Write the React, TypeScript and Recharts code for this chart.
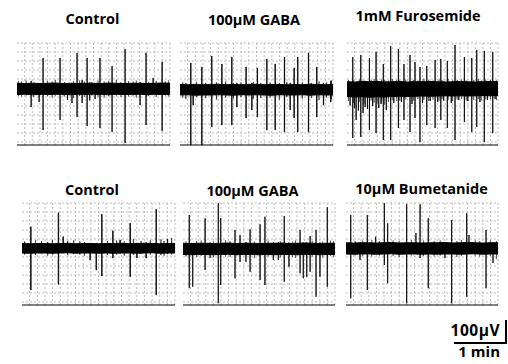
import React from 'react';
import { ComposedChart, Area, Bar, XAxis, YAxis, CartesianGrid } from 'recharts';

// ---------- text ----------
const TITLES_TOP = ['Control', '100μM GABA', '1mM Furosemide'];
const TITLES_BOTTOM = ['Control', '100μM GABA', '10μM Bumetanide'];
const SCALE_V = '100μV';
const SCALE_T = '1 min';

// ---------- axes ----------
const X_DOMAIN = [0, 100];
const Y_DOMAIN = [-228, 180];
const GRID_X = [5, 10, 15, 20, 25, 30, 35, 40, 45, 50, 55, 60, 65, 70, 75, 80, 85, 90, 95, 100];
const GRID_Y = [180, 144, 108, 72, 36, 0, -36, -72, -108, -144, -180, -216];
const MARKS_TOP = [120, 0, -112];
const MARKS_BOTTOM = [115, 0, -112];

// ---------- noise band envelopes (µV), sampled every 5 time units ----------
const BAND_T = [0, 5, 10, 15, 20, 25, 30, 35, 40, 45, 50, 55, 60, 65, 70, 75, 80, 85, 90, 95, 100];

const P1_BAND_HI = [19, 18, 19, 18, 19, 20, 18, 19, 18, 19, 19, 18, 20, 19, 18, 19, 19, 18, 19, 20, 19];
const P1_BAND_LO = [-26, -25, -27, -26, -26, -25, -26, -27, -25, -26, -25, -26, -27, -25, -26, -26, -25, -27, -25, -26, -26];

const P2_BAND_HI = [14, 13, 14, 13, 14, 15, 13, 14, 13, 14, 15, 13, 14, 14, 13, 14, 13, 15, 14, 13, 14];
const P2_BAND_LO = [-28, -27, -29, -28, -28, -27, -28, -29, -27, -28, -27, -28, -29, -27, -28, -28, -27, -29, -27, -28, -28];

const P3_BAND_HI = [25, 24, 26, 25, 26, 24, 25, 26, 24, 25, 25, 26, 25, 24, 25, 26, 25, 24, 25, 26, 25];
const P3_BAND_LO = [-34, -36, -35, -37, -35, -36, -34, -33, -34, -33, -32, -33, -32, -31, -32, -31, -32, -31, -30, -31, -30];

const P4_BAND_HI = [18, 17, 18, 18, 17, 18, 19, 17, 18, 18, 17, 18, 18, 19, 17, 18, 19, 18, 17, 18, 18];
const P4_BAND_LO = [-20, -21, -20, -20, -21, -20, -19, -21, -20, -20, -21, -20, -21, -20, -20, -21, -20, -19, -21, -20, -20];

const P5_BAND_HI = [19, 18, 19, 19, 18, 19, 20, 18, 19, 19, 18, 19, 19, 20, 18, 19, 20, 19, 18, 19, 19];
const P5_BAND_LO = [-26, -27, -26, -26, -27, -26, -25, -27, -26, -26, -27, -26, -27, -26, -26, -27, -26, -25, -27, -26, -26];

const P6_BAND_HI = [21, 20, 21, 21, 20, 21, 22, 20, 21, 21, 20, 21, 21, 22, 20, 21, 22, 21, 20, 21, 21];
const P6_BAND_LO = [-24, -25, -24, -24, -25, -24, -23, -25, -24, -24, -25, -24, -25, -24, -24, -25, -24, -23, -25, -24, -24];

// ---------- spikes: time, lowest value, highest value (µV) ----------
const P1_SPIKE_T = [9.2, 14.4, 17, 28.1, 33, 35.9, 39.2, 42.5, 45.8, 47.5, 51, 54.2, 62.1, 70.6, 80.4, 84.3, 88.9, 94.8];
const P1_SPIKE_LO = [-76, -56, -168, -128, -48, -60, -116, -60, -152, -50, -44, -160, -176, -220, -68, -148, -16, -172];
const P1_SPIKE_HI = [28, 20, 120, 120, 16, 20, 140, 32, 120, 22, 18, 120, 88, 156, 24, 140, 40, 104];

const P2_SPIKE_T = [7, 8.5, 14.2, 20.7, 27.3, 33.8, 37.1, 43.1, 46.9, 50.5, 56.7, 62.1, 68.2, 71.9, 74.5, 76.9, 83.9, 89.3, 93.7, 98.5];
const P2_SPIKE_LO = [-228, -68, -228, -156, -148, -148, -76, -120, -88, -116, -168, -168, -176, -88, -120, -176, -176, -116, -68, -56];
const P2_SPIKE_HI = [100, 16, 84, 128, 96, 124, 20, 84, 20, 80, 116, 96, 124, 20, 80, 124, 140, 84, 20, 28];

const P3_SPIKE_T = [2, 3.8, 5, 6, 7.5, 9.1, 10.6, 12, 13.5, 14.8, 17, 19.2, 21, 22.5, 24, 26, 28.9, 31, 34, 36, 37.7, 41.7, 43, 45, 48.3, 50, 52.8, 55, 58.3, 60, 62.1, 64, 66.4, 69, 71.5, 74, 77.7, 80, 82.6, 85.9, 88, 90.9, 93, 96.5, 98];
const P3_SPIKE_LO = [-70, -200, -80, -128, -90, -196, -100, -76, -84, -168, -72, -180, -80, -64, -208, -88, -208, -60, -160, -56, -128, -176, -64, -120, -216, -60, -148, -52, -160, -56, -128, -50, -160, -60, -208, -48, -136, -52, -176, -156, -56, -216, -48, -180, -44];
const P3_SPIKE_HI = [24, 124, 24, 20, 24, 132, 28, 28, 24, 120, 28, 144, 24, 24, 96, 28, 168, 28, 156, 24, 96, 132, 28, 104, 84, 28, 88, 28, 112, 24, 116, 28, 108, 24, 172, 28, 124, 24, 120, 152, 28, 148, 24, 144, 28];

const P4_SPIKE_T = [5.7, 23.7, 26.8, 44.4, 48.4, 52.1, 59.3, 64, 70.6, 75, 81, 87.6, 95];
const P4_SPIKE_LO = [-168, -145, -20, -48, -88, -112, -40, -22, -115, -40, -40, -188, -24];
const P4_SPIKE_HI = [85, 141, 45, 20, 20, 135, 69, 32, 99, 20, 22, 155, 36];

const P5_SPIKE_T = [4.1, 6.4, 14.5, 17.8, 23.2, 24.8, 34.2, 37.5, 41.4, 44.1, 50.7, 53.9, 59.4, 62.7, 66.6, 69.7, 77, 79.1, 81.4, 83.6, 87.5, 90.1, 94.9];
const P5_SPIKE_LO = [-161, -155, -88, -40, -221, -148, -121, -56, -55, -95, -128, -148, -48, -48, -135, -75, -101, -121, -115, -95, -195, -115, -155];
const P5_SPIKE_HI = [132, 20, 119, 22, 179, 120, 72, 52, 24, 75, 95, 125, 22, 22, 128, 22, 72, 22, 22, 48, 72, 22, 163];

const P6_SPIKE_T = [3.1, 9.2, 14, 19.5, 25.2, 27.4, 39.9, 46, 48.7, 54.1, 65.1, 69.5, 79.4, 80.9, 92.1, 96.7];
const P6_SPIKE_LO = [-201, -48, -168, -22, -68, -141, -221, -22, -40, -161, -40, -221, -195, -22, -161, -60];
const P6_SPIKE_HI = [132, 22, 132, 45, 179, 99, 175, 60, 175, 119, 22, 112, 139, 52, 72, 22];

// ---------- small noise excursions just beyond the band ----------
const P1_HAIR_T = [1, 3, 6, 11, 20, 23, 25, 31, 37, 41, 44, 49, 53, 57, 60, 65, 68, 73, 76, 78, 86, 91, 97, 99];
const P1_HAIR_LO = [-32, -34, -30, -36, -32, -38, -30, -34, -40, -32, -36, -30, -34, -38, -32, -30, -36, -34, -30, -38, -32, -36, -30, -34];
const P1_HAIR_HI = [28, 26, 30, 24, 28, 26, 32, 24, 28, 30, 26, 24, 30, 26, 28, 32, 24, 28, 26, 30, 24, 28, 26, 30];

const P2_HAIR_T = [2, 4, 11, 17, 24, 30, 35, 40, 48, 53, 59, 65, 70, 80, 86, 91, 96, 99];
const P2_HAIR_LO = [-38, -44, -36, -40, -46, -38, -42, -36, -44, -40, -38, -46, -36, -42, -40, -48, -38, -44];
const P2_HAIR_HI = [22, 20, 24, 20, 22, 26, 20, 22, 24, 20, 22, 20, 24, 22, 20, 26, 22, 30];

const P3_HAIR_T = [1, 4.4, 8.2, 11.3, 16, 18, 20, 23, 25, 27.5, 30, 33, 35, 39, 44, 47, 51, 54, 57, 61, 63, 67, 70, 73, 76, 79, 84, 87, 89, 92, 95, 99];
const P3_HAIR_LO = [-52, -60, -56, -64, -50, -58, -62, -54, -66, -56, -48, -52, -50, -46, -50, -44, -48, -52, -46, -50, -44, -48, -52, -46, -44, -50, -48, -44, -50, -46, -44, -48];
const P3_HAIR_HI = [32, 30, 34, 30, 32, 36, 30, 34, 32, 30, 36, 32, 30, 34, 32, 30, 36, 32, 30, 34, 32, 36, 30, 32, 34, 30, 32, 36, 30, 34, 32, 30];

const P4_HAIR_T = [2, 9, 13, 17, 20, 30, 34, 38, 41, 56, 62, 67, 73, 78, 84, 91, 93, 98];
const P4_HAIR_LO = [-26, -28, -24, -30, -26, -28, -24, -26, -30, -28, -26, -30, -28, -24, -26, -28, -30, -26];
const P4_HAIR_HI = [26, 30, 28, 24, 32, 28, 30, 26, 24, 28, 30, 26, 36, 28, 30, 34, 28, 40];

const P5_HAIR_T = [2, 9, 12, 20, 28, 31, 47, 56, 64, 72, 74, 85, 92, 97, 99];
const P5_HAIR_LO = [-34, -36, -32, -38, -34, -36, -40, -34, -38, -36, -40, -34, -38, -32, -36];
const P5_HAIR_HI = [26, 28, 30, 26, 32, 28, 26, 30, 28, 26, 30, 28, 26, 30, 28];

const P6_HAIR_T = [6, 11, 17, 22, 31, 35, 43, 51, 58, 62, 73, 76, 85, 88, 95, 99];
const P6_HAIR_LO = [-30, -32, -34, -30, -32, -36, -30, -32, -34, -30, -36, -32, -30, -34, -32, -44];
const P6_HAIR_HI = [28, 30, 32, 28, 30, 28, 32, 30, 28, 30, 28, 32, 30, 28, 30, 28];

type Row = { t: number; band?: [number, number]; spike?: [number, number]; hair?: [number, number] };

function buildRows(
  bandHi: number[], bandLo: number[],
  sT: number[], sLo: number[], sHi: number[],
  hT: number[], hLo: number[], hHi: number[],
): Row[] {
  const rows: Row[] = [];
  BAND_T.forEach((t, i) => rows.push({ t, band: [bandLo[i], bandHi[i]] }));
  sT.forEach((t, i) => rows.push({ t, spike: [sLo[i], sHi[i]] }));
  hT.forEach((t, i) => rows.push({ t, hair: [hLo[i], hHi[i]] }));
  rows.sort((a, b) => a.t - b.t);
  return rows;
}

type PanelProps = {
  left: number; top: number; width: number; height: number;
  rows: Row[]; marks: number[];
};

const ML = 5, MT = 2, MR = 2;

// map a value through an axis scale (function or object form), falling back to the plot offset
function through(scale: any, v: number, lo: number, hi: number, start: number, size: number, invert: boolean) {
  if (typeof scale === 'function') return scale(v);
  if (scale && typeof scale.map === 'function') return scale.map(v);
  const f = (v - lo) / (hi - lo);
  return invert ? start + (1 - f) * size : start + f * size;
}
const gridH = (p: any) => {
  const o = p?.offset ?? {};
  return GRID_Y.map((v) => through(p?.yAxis?.scale, v, Y_DOMAIN[0], Y_DOMAIN[1], o.top ?? 0, o.height ?? 0, true));
};
const gridV = (p: any) => {
  const o = p?.offset ?? {};
  return GRID_X.map((v) => through(p?.xAxis?.scale, v, X_DOMAIN[0], X_DOMAIN[1], o.left ?? 0, o.width ?? 0, false));
};

function Panel({ left, top, width, height, rows, marks }: PanelProps) {
  return (
    <div style={{ position: 'absolute', left: left - ML, top: top - MT }}>
      <ComposedChart
        width={width + ML + MR}
        height={height + MT + 2}
        data={rows}
        margin={{ top: MT, right: MR, bottom: 0, left: ML }}
      >
        <CartesianGrid
          stroke="#bcbcbc"
          strokeDasharray="2 2"
          strokeWidth={1}
          horizontalCoordinatesGenerator={gridH}
          verticalCoordinatesGenerator={gridV}
        />
        <XAxis
          dataKey="t"
          type="number"
          domain={X_DOMAIN}
          ticks={GRID_X}
          tick={false}
          tickLine={false}
          height={2}
          axisLine={{ stroke: '#000', strokeWidth: 1 }}
          allowDataOverflow
        />
        <YAxis
          type="number"
          domain={Y_DOMAIN}
          ticks={GRID_Y}
          tick={false}
          tickLine={false}
          width={0}
          axisLine={{ stroke: '#000', strokeWidth: 1.2 }}
          allowDataOverflow
        />
        <YAxis
          yAxisId="marks"
          type="number"
          domain={Y_DOMAIN}
          ticks={marks}
          tick={false}
          tickSize={3}
          tickLine={{ stroke: '#000', strokeWidth: 1.5 }}
          width={0}
          axisLine={false}
          allowDataOverflow
        />
        <Area
          dataKey="band"
          type="linear"
          stroke="#000"
          strokeWidth={1}
          fill="#000"
          fillOpacity={1}
          connectNulls
          isAnimationActive={false}
          dot={false}
          activeDot={false}
        />
        <Bar dataKey="hair" fill="#000" stroke="#000" strokeWidth={0.4} barSize={1} isAnimationActive={false} />
        <Bar dataKey="spike" fill="#000" stroke="#000" strokeWidth={0.8} barSize={1.4} isAnimationActive={false} />
      </ComposedChart>
    </div>
  );
}

const titleStyle: React.CSSProperties = {
  position: 'absolute',
  width: 180,
  textAlign: 'center',
  fontFamily: '"Open Sans", sans-serif',
  fontWeight: 700,
  fontSize: 14.5,
  lineHeight: '14.5px',
  color: '#000',
  whiteSpace: 'nowrap',
};

export default function App() {
  const p1 = buildRows(P1_BAND_HI, P1_BAND_LO, P1_SPIKE_T, P1_SPIKE_LO, P1_SPIKE_HI, P1_HAIR_T, P1_HAIR_LO, P1_HAIR_HI);
  const p2 = buildRows(P2_BAND_HI, P2_BAND_LO, P2_SPIKE_T, P2_SPIKE_LO, P2_SPIKE_HI, P2_HAIR_T, P2_HAIR_LO, P2_HAIR_HI);
  const p3 = buildRows(P3_BAND_HI, P3_BAND_LO, P3_SPIKE_T, P3_SPIKE_LO, P3_SPIKE_HI, P3_HAIR_T, P3_HAIR_LO, P3_HAIR_HI);
  const p4 = buildRows(P4_BAND_HI, P4_BAND_LO, P4_SPIKE_T, P4_SPIKE_LO, P4_SPIKE_HI, P4_HAIR_T, P4_HAIR_LO, P4_HAIR_HI);
  const p5 = buildRows(P5_BAND_HI, P5_BAND_LO, P5_SPIKE_T, P5_SPIKE_LO, P5_SPIKE_HI, P5_HAIR_T, P5_HAIR_LO, P5_HAIR_HI);
  const p6 = buildRows(P6_BAND_HI, P6_BAND_LO, P6_SPIKE_T, P6_SPIKE_LO, P6_SPIKE_HI, P6_HAIR_T, P6_HAIR_LO, P6_HAIR_HI);

  return (
    <div style={{ position: 'absolute', left: 0, top: 0, width: 508, height: 364, background: '#fff', overflow: 'hidden' }}>
      <div style={{ ...titleStyle, left: 92.5 - 90, top: 12 }}>{TITLES_TOP[0]}</div>
      <div style={{ ...titleStyle, left: 254 - 90, top: 13 }}>{TITLES_TOP[1]}</div>
      <div style={{ ...titleStyle, left: 418 - 90, top: 9 }}>{TITLES_TOP[2]}</div>
      <div style={{ ...titleStyle, left: 92 - 90, top: 183 }}>{TITLES_BOTTOM[0]}</div>
      <div style={{ ...titleStyle, left: 252.5 - 90, top: 184 }}>{TITLES_BOTTOM[1]}</div>
      <div style={{ ...titleStyle, left: 421.5 - 90, top: 182 }}>{TITLES_BOTTOM[2]}</div>

      <Panel left={17} top={43} width={153} height={102} rows={p1} marks={MARKS_TOP} />
      <Panel left={180} top={43} width={153} height={102} rows={p2} marks={MARKS_TOP} />
      <Panel left={347} top={43} width={151} height={102} rows={p3} marks={MARKS_TOP} />
      <Panel left={22} top={203} width={153} height={102} rows={p4} marks={MARKS_BOTTOM} />
      <Panel left={183} top={203} width={152} height={102} rows={p5} marks={MARKS_BOTTOM} />
      <Panel left={346} top={203} width={152} height={102} rows={p6} marks={MARKS_BOTTOM} />

      {/* scale bar */}
      <div style={{ ...titleStyle, width: 80, textAlign: 'right', left: 500 - 80, top: 322.5, letterSpacing: 0.5, fontSize: 15.5 }}>{SCALE_V}</div>
      <div style={{ position: 'absolute', left: 505.3, top: 320, width: 2, height: 24, background: '#000' }} />
      <div style={{ position: 'absolute', left: 454, top: 341.7, width: 53, height: 2, background: '#000' }} />
      <div style={{ ...titleStyle, width: 80, textAlign: 'right', left: 500 - 80, top: 344, fontSize: 15 }}>{SCALE_T}</div>
    </div>
  );
}
